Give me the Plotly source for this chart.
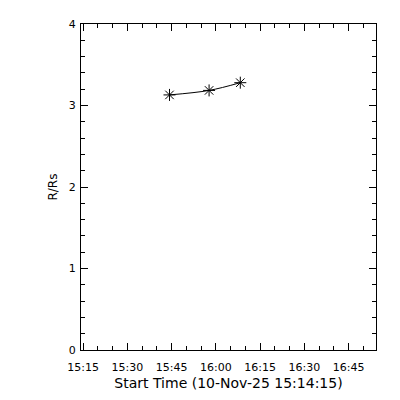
import plotly.graph_objects as go

times = ["2025-11-10 15:44:15", "2025-11-10 15:57:40", "2025-11-10 16:08:15"]
heights = [3.13, 3.185, 3.28]
x_range = ["2025-11-10 15:14:15", "2025-11-10 16:54:15"]
y_range = [0, 4]
x_title = "Start Time (10-Nov-25 15:14:15)"
y_title = "R/Rs"

FONT = "DejaVu Sans"

fig = go.Figure()
fig.add_trace(go.Scatter(
    x=times, y=heights, mode="lines+markers",
    line=dict(color="black", width=1, shape="spline"),
    marker=dict(symbol="asterisk-open", size=10, color="black",
                line=dict(color="black", width=1)),
    showlegend=False,
))

axis_common = dict(
    showline=True, linecolor="black", linewidth=1, mirror="allticks",
    ticks="inside", ticklen=7, tickwidth=1, tickcolor="black",
    showgrid=False, zeroline=False, automargin=False,
    tickfont=dict(family=FONT, size=11, color="black"),
)

fig.update_xaxes(
    type="date", range=x_range, tick0="2025-11-10 15:15:00", dtick=15 * 60 * 1000,
    tickformat="%H:%M", ticklabelstandoff=7,
    title=dict(text=x_title, standoff=4, font=dict(family=FONT, size=14, color="black")),
    minor=dict(dtick=5 * 60 * 1000, tick0="2025-11-10 15:15:00", ticks="inside",
               ticklen=4, tickcolor="black", showgrid=False),
    **axis_common,
)
fig.update_yaxes(
    range=y_range, dtick=1, ticklabelstandoff=2,
    title=dict(text=y_title, standoff=8, font=dict(family=FONT, size=12, color="black")),
    minor=dict(dtick=0.2, ticks="inside", ticklen=4, tickcolor="black", showgrid=False),
    **axis_common,
)

# page body has an 8px margin, so the figure is offset by 8px
fig.update_layout(
    width=392, height=392,
    margin=dict(l=73, r=24, t=16, b=50),
    plot_bgcolor="white", paper_bgcolor="white",
    font=dict(family=FONT, size=11, color="black"),
)

fig.write_html("out.html")
